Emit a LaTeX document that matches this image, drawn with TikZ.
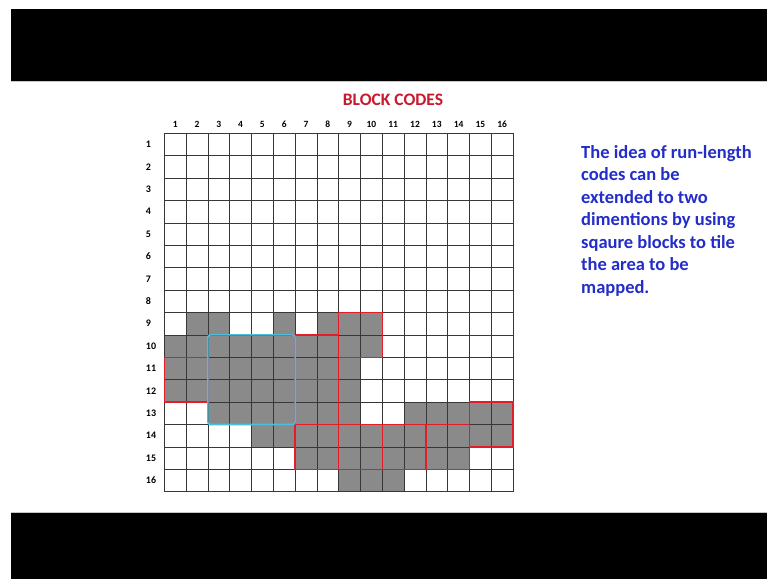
\documentclass[tikz,border=0pt]{standalone}
\usepackage{fontspec}
\setmainfont{Carlito}
\definecolor{cellgray}{RGB}{138,138,138}
\definecolor{gridline}{RGB}{55,55,55}
\definecolor{boxred}{RGB}{225,30,40}
\definecolor{boxcyan}{RGB}{75,190,220}
\definecolor{titlered}{RGB}{200,25,45}
\definecolor{textblue}{RGB}{35,45,200}
\tikzset{
  collabel/.style={font=\fontsize{9.5}{10}\selectfont\bfseries, inner sep=0pt, anchor=base},
  rowlabel/.style={font=\fontsize{10}{11}\selectfont\bfseries, inner sep=0pt, anchor=west},
  bluetext/.style={font=\fontsize{18.5}{22.5}\selectfont\bfseries, text=textblue, inner sep=0pt, anchor=base west},
  redblock/.style={draw=boxred, line width=1.3pt},
  cyanblock/.style={draw=boxcyan, line width=1.6pt, rounded corners=2.5pt},
  gridrule/.style={draw=gridline, line width=0.8pt},
}
\begin{document}
\begin{tikzpicture}[x=1pt,y=-1pt]
\useasboundingbox (0,0) rectangle (767,579);
\fill[white] (0,0) rectangle (767,579);
% black bars
\fill[black] (11,9) rectangle (767,81);
\fill[black] (11,513) rectangle (767,579);
\draw[gray!45, line width=0.8pt] (11,81.6) -- (767,81.6);
\draw[gray!45, line width=0.8pt] (11,512.4) -- (767,512.4);
% title
\node[font=\fontsize{17.5}{18}\selectfont\bfseries, text=titlered, inner sep=0pt, anchor=base] (title) at (393,105.7) {BLOCK CODES};
% right text
\node[bluetext] (t1) at (581,158.3) {The idea of run-length};
\node[bluetext] (t2) at (581,180.8) {codes can be};
\node[bluetext] (t3) at (581,203.3) {extended to two};
\node[bluetext] (t4) at (581,225.8) {dimentions by using};
\node[bluetext] (t5) at (581,248.3) {sqaure blocks to tile};
\node[bluetext] (t6) at (581,270.8) {the area to be};
\node[bluetext] (t7) at (581,293.3) {mapped.};
% grid
\begin{scope}[shift={(164.3,133.3)}, x=21.8pt, y=-22.4pt]
  % gray cells: row / list of columns
  \foreach \r/\cols in {9/{2,3,6,8,9,10},
                        10/{1,2,3,4,5,6,7,8,9,10},
                        11/{1,2,3,4,5,6,7,8,9},
                        12/{1,2,3,4,5,6,7,8,9},
                        13/{3,4,5,6,7,8,9,12,13,14,15,16},
                        14/{5,6,7,8,9,10,11,12,13,14,15,16},
                        15/{7,8,9,10,11,12,13,14},
                        16/{9,10,11}} {
    \foreach \c in \cols {
      \fill[cellgray] (\c-1,\r-1) rectangle (\c,\r);
    }
  }
  \foreach \i in {0,...,16} {
    \draw[gridrule] (\i,0) -- (\i,16);
    \draw[gridrule] (0,\i) -- (16,\i);
  }
  % labels
  \foreach \c in {1,...,16} {
    \node[collabel] (c\c) at (\c-0.5,-0.25) {\c};
  }
  \foreach \r in {1,...,16} {
    \node[rowlabel] (r\r) at (-0.85,\r-0.5) {\r};
  }
  % red blocks
  \draw[redblock] (8,8) rectangle (10,10);
  \draw[redblock] (6,9) rectangle (8,11);
  \draw[redblock] (0,10) rectangle (2,12);
  \draw[redblock] (6,11) rectangle (8,13);
  \draw[redblock] (14,12) rectangle (16,14);
  \draw[redblock] (6,13) rectangle (8,15);
  \draw[redblock] (8,13) rectangle (10,15);
  \draw[redblock] (10,13) rectangle (12,15);
  \draw[redblock] (12,13) rectangle (14,15);
  % cyan block
  \draw[cyanblock] (2,9) rectangle (6,13);
\end{scope}
\end{tikzpicture}
\end{document}
